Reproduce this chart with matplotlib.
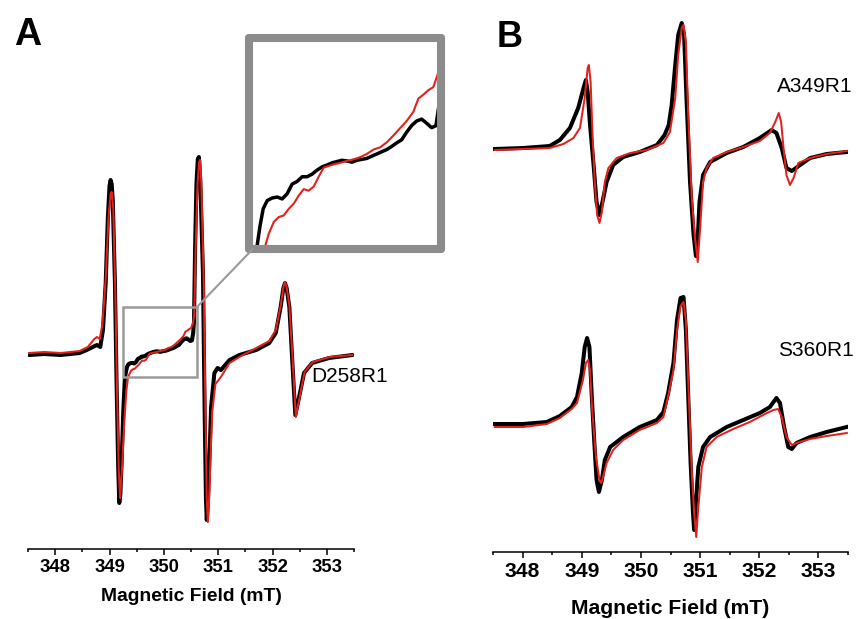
import matplotlib
matplotlib.use("Agg")
import matplotlib.pyplot as plt
from matplotlib.patches import Rectangle, ConnectionPatch
from matplotlib.ticker import MultipleLocator
import numpy as np

plt.rcParams['font.family'] = ['Liberation Sans', 'DejaVu Sans']

# ---- panel A : D258R1 (field in mT, intensity in arbitrary units) ----
d258_black_field = [347.52, 347.8, 348.1, 348.45, 348.58, 348.73, 348.77, 348.83, 348.88, 348.93,
                    348.97, 349.0, 349.02, 349.04, 349.06, 349.10, 349.13, 349.16, 349.18, 349.20,
                    349.22, 349.255,
                    349.283, 349.301, 349.324, 349.352, 349.386, 349.421, 349.455, 349.489, 349.524, 349.558,
                    349.593, 349.627, 349.661, 349.696, 349.730, 349.765, 349.799, 349.833, 349.868, 349.902,
                    349.937, 349.971, 350.006, 350.040, 350.074, 350.109, 350.143, 350.178, 350.212, 350.246,
                    350.281, 350.315, 350.350, 350.384, 350.418, 350.453, 350.487, 350.517, 350.538, 350.555,
                    350.575, 350.60, 350.625, 350.645, 350.67, 350.72, 350.75, 350.775, 350.79, 350.81,
                    350.83, 350.87, 350.93, 350.99, 351.05, 351.21, 351.39, 351.70, 351.94, 352.06,
                    352.15, 352.20, 352.23, 352.26, 352.31, 352.36, 352.42, 352.49, 352.58, 352.73,
                    353.04, 353.47]
d258_black_int = [-0.01, 0.0, -0.01, 0.01, 0.04, 0.08, 0.09, 0.07, 0.24, 0.71,
                  1.37, 1.68, 1.74, 1.70, 1.54, 0.71, -0.29, -1.13, -1.49, -1.40,
                  -1.13, -0.55,
                  -0.240, -0.183, -0.126, -0.100, -0.092, -0.089, -0.095, -0.079, -0.048, -0.040,
                  -0.025, -0.025, -0.017, -0.004, 0.006, 0.012, 0.019, 0.023, 0.027, 0.025,
                  0.021, 0.027, 0.030, 0.033, 0.040, 0.047, 0.054, 0.061, 0.071, 0.082,
                  0.092, 0.116, 0.137, 0.151, 0.157, 0.144, 0.130, 0.136, 0.201, 0.32,
                  1.05, 1.70, 1.95, 1.97, 1.75, 0.81, -0.53, -1.45, -1.66, -1.50,
                  -1.19, -0.53, -0.19, -0.14, -0.16, -0.06, -0.01, 0.04, 0.11, 0.21,
                  0.47, 0.66, 0.71, 0.66, 0.47, -0.03, -0.61, -0.43, -0.19, -0.09,
                  -0.04, -0.01]

d258_red_field = [347.52, 347.8, 348.1, 348.45, 348.6, 348.72, 348.77, 348.82, 348.87, 348.93,
                  348.98, 349.02, 349.04, 349.07, 349.11, 349.14, 349.17, 349.195, 349.23, 349.27, 349.31,
                  349.340, 349.363, 349.398, 349.432, 349.466, 349.501, 349.535, 349.570, 349.604, 349.638,
                  349.673, 349.707, 349.742, 349.776, 349.811, 349.856, 349.902, 349.948, 349.994, 350.040,
                  350.086, 350.132, 350.178, 350.223, 350.269, 350.315, 350.361, 350.396, 350.430, 350.464,
                  350.499, 350.538, 350.56,
                  350.585, 350.62, 350.65, 350.67, 350.69, 350.735, 350.765, 350.79, 350.81, 350.83,
                  350.855, 350.89, 350.95, 351.05, 351.21, 351.39, 351.70, 351.94, 352.06, 352.15,
                  352.20, 352.23, 352.26, 352.31, 352.37, 352.43, 352.50, 352.59, 352.74, 353.05,
                  353.47]
d258_red_int = [0.01, 0.02, 0.01, 0.03, 0.07, 0.15, 0.17, 0.15, 0.30, 0.75,
                1.35, 1.60, 1.62, 1.45, 0.55, -0.40, -1.15, -1.44, -1.15, -0.70, -0.37,
                -0.240, -0.204, -0.167, -0.152, -0.147, -0.126, -0.110, -0.084, -0.064, -0.069,
                -0.056, -0.025, 0.004, 0.009, 0.014, 0.019, 0.025, 0.030, 0.037, 0.047,
                0.061, 0.068, 0.084, 0.105, 0.128, 0.151, 0.180, 0.222, 0.234, 0.248,
                0.258, 0.310, 0.40,
                1.05, 1.70, 1.92, 1.94, 1.70, 0.70, -0.55, -1.45, -1.68, -1.50,
                -1.10, -0.58, -0.30, -0.23, -0.09, -0.03, 0.06, 0.13, 0.24, 0.48,
                0.67, 0.72, 0.67, 0.49, -0.05, -0.63, -0.43, -0.18, -0.08, -0.03,
                -0.01]

# ---- panel B : A349R1 (top) and S360R1 (bottom) ----
a349_black_field = [347.53, 348.01, 348.46, 348.63, 348.80, 348.94, 349.03, 349.07, 349.10, 349.14,
                    349.20, 349.25, 349.30, 349.35, 349.42, 349.53, 349.70, 349.98, 350.27, 350.40,
                    350.47, 350.52, 350.58, 350.63, 350.69, 350.73, 350.77, 350.83, 350.89, 350.93,
                    350.96, 350.99, 351.05, 351.17, 351.45, 351.73, 352.01, 352.21, 352.29, 352.38,
                    352.46, 352.55, 352.69, 352.86, 353.14, 353.48]
a349_black_int = [0.0, 0.01, 0.03, 0.09, 0.21, 0.41, 0.61, 0.69, 0.57, 0.24,
                  -0.16, -0.53, -0.66, -0.53, -0.33, -0.16, -0.08, -0.03, 0.04, 0.14,
                  0.24, 0.44, 0.84, 1.14, 1.26, 1.14, 0.51, -0.33, -0.86, -1.07,
                  -0.90, -0.53, -0.26, -0.13, -0.04, 0.02, 0.11, 0.19, 0.16, 0.01,
                  -0.19, -0.22, -0.16, -0.09, -0.05, -0.03]

a349_red_field = [347.53, 348.01, 348.46, 348.69, 348.86, 348.97, 349.05, 349.10, 349.12, 349.15,
                  349.18, 349.22, 349.26, 349.30, 349.34, 349.39, 349.45, 349.59, 349.82, 350.10,
                  350.38, 350.44, 350.49, 350.58, 350.63, 350.69, 350.72, 350.76, 350.80, 350.86,
                  350.91, 350.96, 351.00, 351.05, 351.11, 351.22, 351.45, 351.73, 352.01, 352.18,
                  352.27, 352.33, 352.37, 352.41, 352.46, 352.52, 352.58, 352.66, 352.86, 353.14,
                  353.48]
a349_red_int = [-0.01, 0.0, 0.01, 0.05, 0.11, 0.21, 0.51, 0.81, 0.84, 0.67,
                0.17, -0.33, -0.66, -0.74, -0.63, -0.33, -0.19, -0.09, -0.04, -0.01,
                0.06, 0.12, 0.17, 0.51, 0.94, 1.21, 1.24, 1.07, 0.34, -0.49,
                -0.86, -1.13, -0.80, -0.33, -0.19, -0.09, -0.03, 0.02, 0.08, 0.16,
                0.27, 0.36, 0.27, 0.01, -0.26, -0.36, -0.29, -0.14, -0.09, -0.05,
                -0.02]

s360_black_field = [347.53, 348.01, 348.41, 348.63, 348.83, 348.92, 349.00, 349.05, 349.09, 349.13,
                    349.17, 349.21, 349.25, 349.29, 349.34, 349.39, 349.48, 349.70, 349.98, 350.27,
                    350.38, 350.46, 350.55, 350.61, 350.67, 350.72, 350.76, 350.80, 350.84, 350.88,
                    350.90, 350.93, 350.97, 351.05, 351.17, 351.45, 351.73, 352.01, 352.18, 352.29,
                    352.35, 352.42, 352.49, 352.55, 352.63, 352.86, 353.14, 353.48]
s360_black_int = [0.03, 0.03, 0.05, 0.11, 0.20, 0.30, 0.54, 0.80, 0.89, 0.80,
                  0.30, -0.13, -0.53, -0.65, -0.53, -0.33, -0.20, -0.10, 0.00, 0.07,
                  0.15, 0.34, 0.64, 1.07, 1.29, 1.30, 0.97, 0.30, -0.36, -0.86,
                  -1.03, -0.75, -0.40, -0.20, -0.10, 0.00, 0.07, 0.14, 0.20, 0.29,
                  0.24, 0.00, -0.20, -0.22, -0.16, -0.10, -0.05, 0.00]

s360_red_field = [347.53, 348.01, 348.41, 348.63, 348.83, 348.92, 349.02, 349.07, 349.11, 349.14,
                  349.18, 349.24, 349.30, 349.33, 349.36, 349.42, 349.53, 349.70, 349.98, 350.27,
                  350.38, 350.46, 350.55, 350.61, 350.67, 350.72, 350.76, 350.81, 350.86, 350.90,
                  350.935, 350.97, 351.03, 351.11, 351.28, 351.56, 351.84, 352.13, 352.24, 352.32,
                  352.38, 352.46, 352.55, 352.63, 352.86, 353.14, 353.48]
s360_red_int = [0.00, 0.00, 0.03, 0.09, 0.18, 0.24, 0.47, 0.64, 0.67, 0.57,
                0.14, -0.30, -0.53, -0.56, -0.50, -0.36, -0.23, -0.13, -0.03, 0.04,
                0.10, 0.31, 0.57, 0.97, 1.21, 1.25, 1.07, 0.30, -0.46, -0.86,
                -1.10, -0.80, -0.40, -0.20, -0.10, -0.02, 0.05, 0.14, 0.17, 0.18,
                0.10, -0.10, -0.18, -0.16, -0.12, -0.09, -0.06]

tick_fields = [348, 349, 350, 351, 352, 353]

BLACK = '#000000'
RED = '#e4201c'
GRAY = '#8c8c8c'
W, H = 858, 619


def px_axes(x0, y0, x1, y1):
    # figure-pixel box (top-left origin) -> add_axes rectangle
    return [x0 / W, (H - y1) / H, (x1 - x0) / W, (y1 - y0) / H]


def style_axis(ax, tsize):
    for s in ('left', 'right', 'top'):
        ax.spines[s].set_visible(False)
    ax.spines['bottom'].set_linewidth(1.1)
    ax.set_yticks([])
    ax.set_xlim(347.5, 353.5)
    ax.set_xticks(tick_fields)
    ax.xaxis.set_minor_locator(MultipleLocator(0.5))
    ax.tick_params(axis='x', which='major', direction='out', length=4.5, width=1.1,
                   pad=3, labelsize=tsize)
    ax.tick_params(axis='x', which='minor', direction='out', length=2.5, width=1.1)
    for lab in ax.get_xticklabels():
        lab.set_fontweight('bold')


fig = plt.figure(figsize=(W / 100, H / 100), dpi=100)

# panel A
ax_a = fig.add_axes(px_axes(28, 10, 354, 549))
ax_a.plot(d258_black_field, d258_black_int, color=BLACK, lw=2.9,
          solid_joinstyle='round', solid_capstyle='round')
ax_a.plot(d258_red_field, d258_red_int, color=RED, lw=1.45, solid_joinstyle='round')
ax_a.set_ylim(-1.95, 3.44)
style_axis(ax_a, 13.3)
ax_a.set_xlabel('Magnetic Field (mT)', fontsize=13.9, fontweight='bold')
ax_a.xaxis.label.set_va('center')
ax_a.xaxis.set_label_coords(0.5, -0.089)
ax_a.add_patch(Rectangle((349.24, -0.23), 1.37, 0.70, fill=False, ec='#9a9a9a', lw=1.8, zorder=3))

# inset zoom of panel A
ax_in = fig.add_axes(px_axes(249, 38, 441, 249))
ax_in.plot(d258_black_field, d258_black_int, color=BLACK, lw=2.5, solid_joinstyle='round')
ax_in.plot(d258_red_field, d258_red_int, color=RED, lw=1.5, solid_joinstyle='round')
ax_in.set_xlim(349.226, 350.552)
ax_in.set_ylim(-0.253, 0.413)
ax_in.set_xticks([])
ax_in.set_yticks([])
for s in ax_in.spines.values():
    s.set_color(GRAY)
    s.set_linewidth(5.8)
    s.set_capstyle('round')
    s.set_joinstyle('round')

con = ConnectionPatch(xyA=(350.61, 0.47), coordsA=ax_a.transData,
                      xyB=(0.02, 0.0), coordsB=ax_in.transAxes,
                      color='#9a9a9a', lw=1.5)
fig.add_artist(con)

fig.text(311 / W, 1 - 376 / H, 'D258R1', fontsize=15, va='center', ha='left')
fig.text(14 / W, 1 - 45 / H, 'A', fontsize=27, fontweight='bold', va='baseline')

# panel B
ax_b = fig.add_axes(px_axes(493, 10, 848, 552))
top_base, bottom_base = 4.03, 1.25
ax_b.plot(a349_black_field, np.array(a349_black_int) + top_base, color=BLACK, lw=2.9, solid_joinstyle='round')
ax_b.plot(a349_red_field, np.array(a349_red_int) + top_base, color=RED, lw=1.45, solid_joinstyle='round')
ax_b.plot(s360_black_field, np.array(s360_black_int) + bottom_base, color=BLACK, lw=2.9, solid_joinstyle='round')
ax_b.plot(s360_red_field, np.array(s360_red_int) + bottom_base, color=RED, lw=1.45, solid_joinstyle='round')
ax_b.set_ylim(0, 5.42)
style_axis(ax_b, 15.2)
ax_b.set_xlabel('Magnetic Field (mT)', fontsize=15.2, fontweight='bold')
ax_b.xaxis.label.set_va('center')
ax_b.xaxis.set_label_coords(0.5, -0.105)

fig.text(777 / W, 1 - 86 / H, 'A349R1', fontsize=15, va='center', ha='left')
fig.text(778 / W, 1 - 350 / H, 'S360R1', fontsize=15, va='center', ha='left')
fig.text(497 / W, 1 - 47 / H, 'B', fontsize=26, fontweight='bold', va='baseline')

fig.savefig('out.png', dpi=100)
